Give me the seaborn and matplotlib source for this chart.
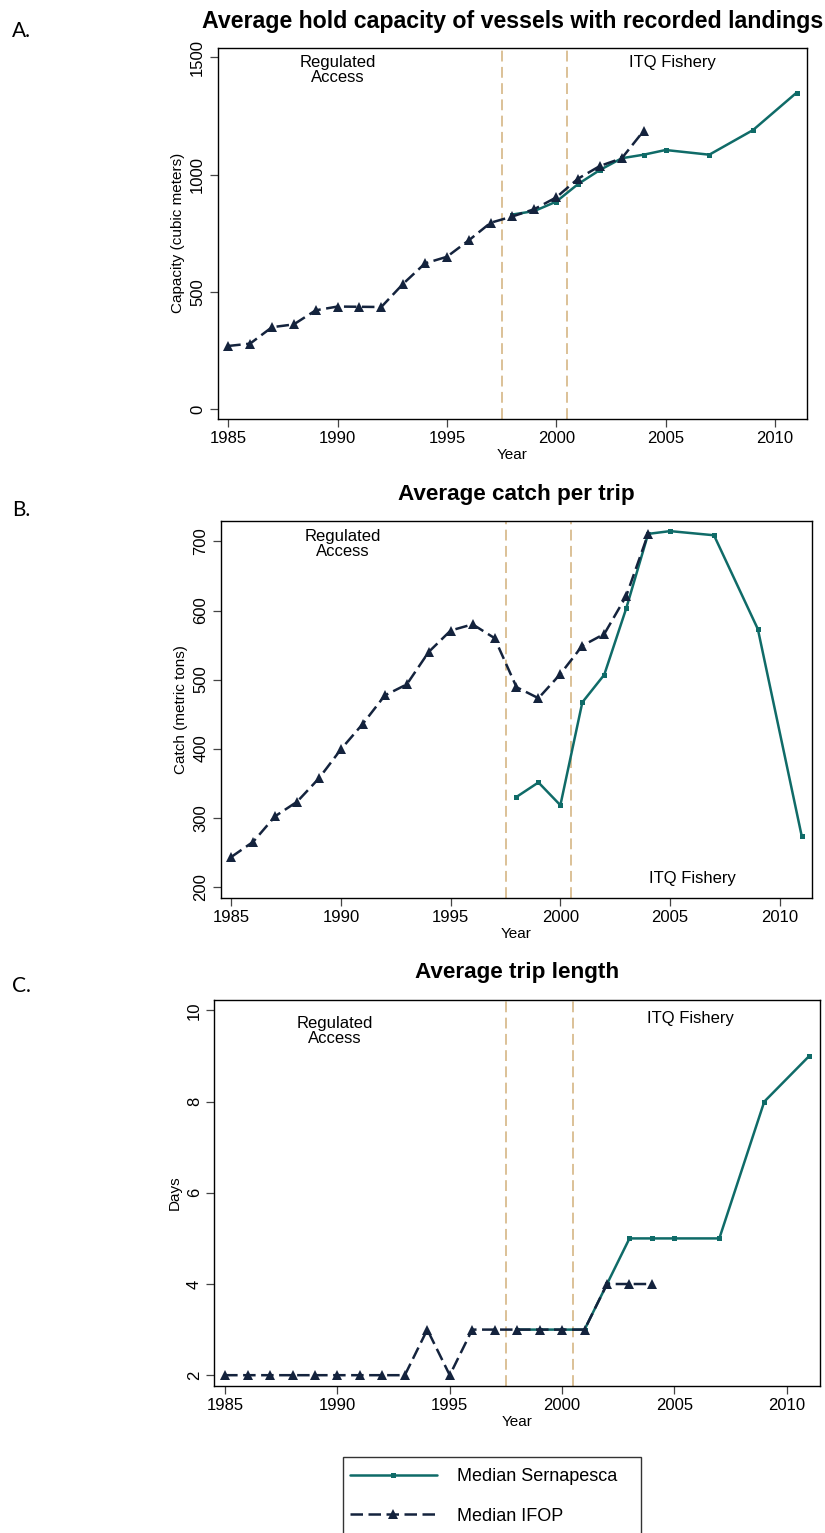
import numpy as np
import pandas as pd
import matplotlib
matplotlib.use("Agg")
import matplotlib.pyplot as plt
import seaborn as sns
from matplotlib.patches import Rectangle
from matplotlib.lines import Line2D

# ---- data ----
ifop_years = list(range(1985, 2005))
serna_years = [1998, 1999, 2000, 2001, 2002, 2003, 2004, 2005, 2007, 2009, 2011]

capacity_ifop = [270, 280, 350, 362, 422, 438, 437, 436, 535, 622,
                 650, 720, 795, 822, 853, 903, 983, 1037, 1070, 1187]
capacity_serna = [830, 845, 885, 960, 1020, 1070, 1085, 1105, 1085, 1190, 1350]

catch_ifop = [243, 265, 302, 323, 357, 399, 436, 477, 493, 540,
              571, 580, 560, 489, 473, 508, 549, 566, 621, 711]
catch_serna = [330, 351, 318, 467, 507, 603, 711, 715, 709, 573, 273]

days_ifop = [2, 2, 2, 2, 2, 2, 2, 2, 2, 3,
             2, 3, 3, 3, 3, 3, 3, 4, 4, 4]
days_serna = [3, 3, 3, 3, 4, 5, 5, 5, 5, 8, 9]

panel_titles = ["Average hold capacity of vessels with recorded landings",
                "Average catch per trip",
                "Average trip length"]
panel_letters = ["A.", "B.", "C."]
y_labels = ["Capacity (cubic meters)", "Catch (metric tons)", "Days"]
series_labels = ["Median Sernapesca", "Median IFOP"]

SERNA_COLOR = "#0f6b68"
IFOP_COLOR = "#14233d"
PERIOD_COLOR = "#d9bc8f"

sns.set_style("ticks")
plt.rcParams["font.family"] = ["Liberation Sans", "DejaVu Sans"]
plt.rcParams["text.color"] = "black"
plt.rcParams["axes.labelcolor"] = "black"
plt.rcParams["xtick.labelcolor"] = "black"
plt.rcParams["ytick.labelcolor"] = "black"

fig = plt.figure(figsize=(8.25, 15.33), dpi=100)

# axes boxes (left, bottom, width, height) in figure fraction
boxes = [
    (0.2639, 0.7267, 0.9785 - 0.2639, 0.9689 - 0.7267),
    (0.2675, 0.4144, 0.9846 - 0.2675, 0.6603 - 0.4144),
    (0.2598, 0.0961, 0.9939 - 0.2598, 0.3477 - 0.0961),
]
ylims = [(-41, 1541), (184, 730), (1.77, 10.23)]
yticks = [[0, 500, 1000, 1500], [200, 300, 400, 500, 600, 700], [2, 4, 6, 8, 10]]
serna_data = [capacity_serna, catch_serna, days_serna]
ifop_data = [capacity_ifop, catch_ifop, days_ifop]
# annotation positions (x, y) in data coords
reg_pos = [(1990.0, 1445), (1990.1, 697), (1989.9, 9.55)]
itq_pos = [(2005.3, 1476), (2006.0, 212), (2005.7, 9.82)]
letter_y = [0.980, 0.667, 0.357]
title_pad = [14, 15, 16]
title_size = [16.7, 16.2, 16.2]

for i in range(3):
    ax = fig.add_axes(boxes[i])
    df_s = pd.DataFrame({"Year": serna_years, "value": serna_data[i]})
    df_i = pd.DataFrame({"Year": ifop_years, "value": ifop_data[i]})

    ax.axvline(1997.5, color=PERIOD_COLOR, linestyle=(0, (6, 3)), lw=1.3, zorder=1)
    ax.axvline(2000.5, color=PERIOD_COLOR, linestyle=(0, (6, 3)), lw=1.3, zorder=1)

    sns.lineplot(data=df_s, x="Year", y="value", ax=ax, color=SERNA_COLOR,
                 marker="s", markersize=3.6, markeredgewidth=0,
                 markeredgecolor=SERNA_COLOR, lw=1.8, zorder=2)
    sns.lineplot(data=df_i, x="Year", y="value", ax=ax, color=IFOP_COLOR,
                 marker="^", markersize=6.8, markeredgewidth=0,
                 markeredgecolor=IFOP_COLOR, lw=1.8, linestyle=(0, (5, 2.2)),
                 zorder=3)

    ax.set_xlim(1984.52, 2011.48)
    ax.set_ylim(*ylims[i])
    ax.set_xticks([1985, 1990, 1995, 2000, 2005, 2010])
    ax.set_yticks(yticks[i])
    ax.tick_params(axis="both", direction="out", length=6, width=0.9,
                   color="#444444", labelsize=12, pad=3)
    ax.tick_params(axis="y", labelrotation=90)
    for lab in ax.get_yticklabels():
        lab.set_va("center")
    for sp in ax.spines.values():
        sp.set_visible(True)
        sp.set_color("black")
        sp.set_linewidth(1.0)

    ax.set_xlabel("Year", fontsize=11, labelpad=1)
    ax.set_ylabel(y_labels[i], fontsize=11, labelpad=4)
    ax.set_title(panel_titles[i], fontsize=title_size[i], fontweight="bold",
                 pad=title_pad[i])

    ax.text(reg_pos[i][0], reg_pos[i][1], "Regulated\nAccess", ha="center",
            va="center", fontsize=12, linespacing=1.0)
    ax.text(itq_pos[i][0], itq_pos[i][1], "ITQ Fishery", ha="center",
            va="center", fontsize=12)

    fig.text(0.015, letter_y[i], panel_letters[i], fontsize=15,
             family=["Lato", "DejaVu Sans"], va="center", ha="left")

# legend box (bottom edge runs off the figure, as in the reference)
fig.patches.append(Rectangle((343 / 825, -0.01), 298 / 825, 0.0596,
                             transform=fig.transFigure, fill=False,
                             edgecolor="#333333", lw=1.0))
handles = [
    Line2D([], [], color=SERNA_COLOR, lw=1.8, marker="s", markersize=3.6,
           markeredgewidth=0),
    Line2D([], [], color=IFOP_COLOR, lw=1.8, marker="^", markersize=6.8,
           markeredgewidth=0, linestyle=(0, (5, 2.2))),
]
fig.legend(handles, series_labels, loc="upper left",
           bbox_to_anchor=(350 / 825, 1 - 1468 / 1533), frameon=False,
           fontsize=13, handlelength=4.8, handletextpad=1.1, labelspacing=1.25,
           borderpad=0, borderaxespad=0, numpoints=1)

fig.savefig("out.png", dpi=100)
